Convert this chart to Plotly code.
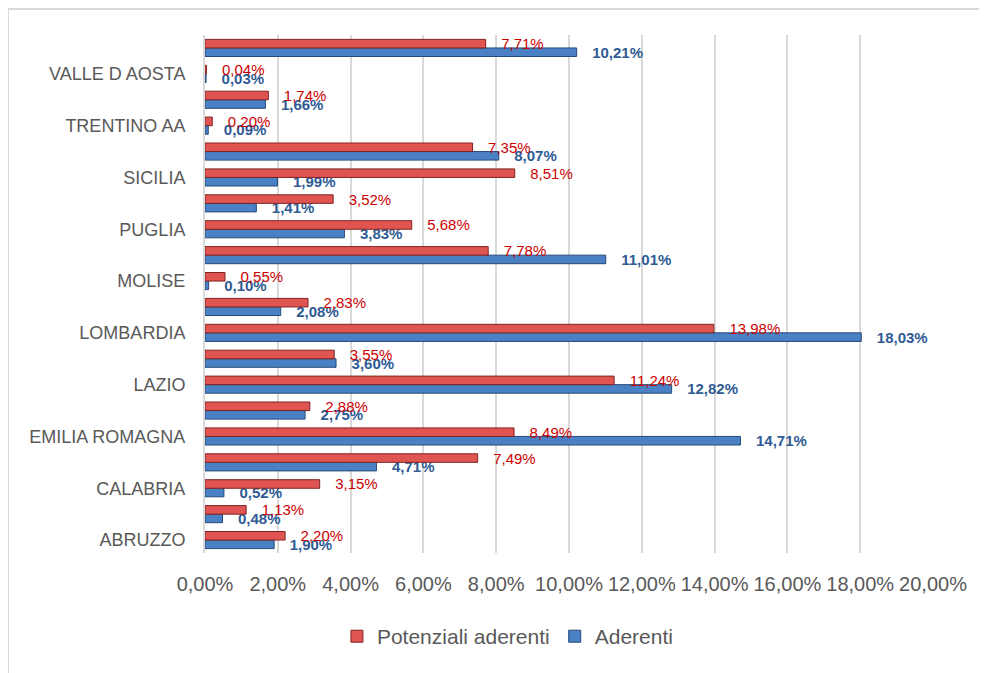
import plotly.graph_objects as go

regions = ["ABRUZZO", "BASILICATA", "CALABRIA", "CAMPANIA", "EMILIA ROMAGNA",
           "FRIULI VG", "LAZIO", "LIGURIA", "LOMBARDIA", "MARCHE",
           "MOLISE", "PIEMONTE", "PUGLIA", "SARDEGNA", "SICILIA",
           "TOSCANA", "TRENTINO AA", "UMBRIA", "VALLE D AOSTA", "VENETO"]

potenziali = [2.20, 1.13, 3.15, 7.49, 8.49, 2.88, 11.24, 3.55, 13.98, 2.83,
              0.55, 7.78, 5.68, 3.52, 8.51, 7.35, 0.20, 1.74, 0.04, 7.71]
aderenti = [1.90, 0.48, 0.52, 4.71, 14.71, 2.75, 12.82, 3.60, 18.03, 2.08,
            0.10, 11.01, 3.83, 1.41, 1.99, 8.07, 0.09, 1.66, 0.03, 10.21]

x_ticks = [0, 2, 4, 6, 8, 10, 12, 14, 16, 18, 20]
shown_labels = regions[::2]


def fmt(v):
    return f"{v:.2f}".replace(".", ",") + "%"


def lab(v):
    return "\u00a0\u00a0\u00a0" + fmt(v)


W, H = 987, 673
# the page body adds an 8px offset; margins compensate for it
L, R, T, B = 197, 62, 27, 128
pw, ph = W - L - R, H - T - B

fig = go.Figure()
fig.add_trace(go.Bar(
    y=regions, x=aderenti, orientation="h", name="Aderenti",
    marker=dict(color="#4a80c4", line=dict(color="#264a78", width=1)),
    text=[lab(v) for v in aderenti], textposition="outside",
    textfont=dict(color="#2f5b94", size=15, family="Liberation Sans", weight=700),
    cliponaxis=False,
))
fig.add_trace(go.Bar(
    y=regions, x=potenziali, orientation="h", name="Potenziali aderenti",
    marker=dict(color="#e05452", line=dict(color="#7f2422", width=1)),
    text=[lab(v) for v in potenziali], textposition="outside",
    textfont=dict(color="#cc0000", size=15, family="Liberation Sans"),
    cliponaxis=False,
))

px0 = (0 - L) / pw
py0 = 1 + (T - 1) / ph
fig.add_shape(type="line", xref="paper", yref="paper", x0=px0, x1=(W + 5 - L) / pw,
              y0=py0, y1=py0, line=dict(color="#d9d9d9", width=2))
fig.add_shape(type="line", xref="paper", yref="paper", x0=px0, x1=px0,
              y0=py0, y1=-(B + 5) / ph, line=dict(color="#d9d9d9", width=2))

fig.update_layout(
    width=W, height=H,
    margin=dict(l=L, r=R, t=T, b=B),
    barmode="group", bargap=0.34, bargroupgap=0,
    uniformtext=dict(minsize=15, mode="show"),
    plot_bgcolor="white", paper_bgcolor="white",
    font=dict(family="Liberation Sans", color="#595959"),
    xaxis=dict(range=[0, 20], tickvals=x_ticks,
               ticktext=[fmt(v) for v in x_ticks],
               showgrid=True, gridcolor="#d9d9d9", gridwidth=2,
               zeroline=False, showline=False,
               tickfont=dict(size=20, color="#595959"),
               ticklabelstandoff=17),
    yaxis=dict(type="category", categoryorder="array", categoryarray=regions,
               range=[-0.5, 19.5],
               tickvals=shown_labels, ticktext=shown_labels,
               showgrid=False, zeroline=False,
               showline=True, linecolor="#d9d9d9", linewidth=2,
               tickfont=dict(size=18, color="#595959"),
               ticklabelstandoff=14),
    legend=dict(orientation="h", xref="container", yref="container",
                x=0.506, xanchor="center", y=0.066, yanchor="middle",
                traceorder="reversed",
                font=dict(size=21, color="#595959")),
    showlegend=True,
)

fig.write_html("out.html")
